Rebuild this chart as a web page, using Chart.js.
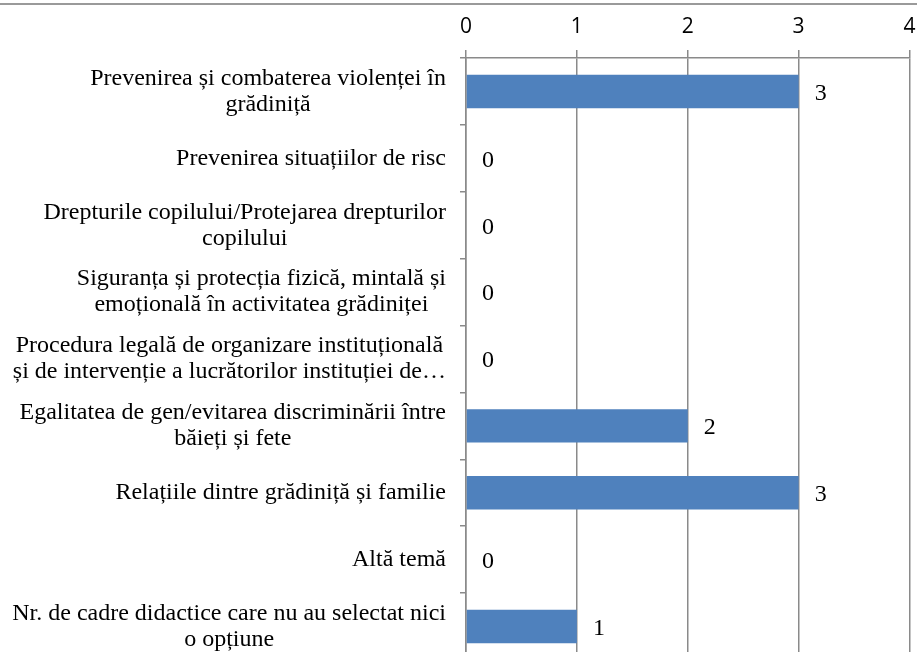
<!DOCTYPE html>
<html><head><meta charset="utf-8">
<script src="https://cdn.jsdelivr.net/npm/chart.js@4"></script>
<style>
html,body{margin:0;padding:0;overflow:hidden;background:#fff;width:917px;height:652px}
#wrap{position:absolute;left:0;top:0;width:917px;height:660px}
#topline{position:absolute;left:0;top:3px;width:917px;height:0;border-top:2px solid #9a9a9a}
</style></head><body>
<div id="wrap"><canvas id="c"></canvas></div>
<div id="topline"></div>
<script>
const categories = [
  ["Prevenirea și combaterea violenței în", "grădiniță"],
  "Prevenirea situațiilor de risc",
  ["Drepturile copilului/Protejarea drepturilor", "copilului"],
  ["Siguranța și protecția fizică, mintală și", "emoțională în activitatea grădiniței"],
  ["Procedura legală de organizare instituțională", "și de intervenție a lucrătorilor instituției de…"],
  ["Egalitatea de gen/evitarea discriminării între", "băieți și fete"],
  "Relațiile dintre grădiniță și familie",
  "Altă temă",
  ["Nr. de cadre didactice care nu au selectat nici", "o opțiune"]
];
const values = [3, 0, 0, 0, 0, 2, 3, 0, 1];
const xTicks = [0, 1, 2, 3, 4];

const GRID = '#8a8a8a';
const SERIF = '24px "Liberation Serif", "Times New Roman", serif';

const valueLabels = {
  id: 'valueLabels',
  afterDatasetsDraw(chart) {
    const ctx = chart.ctx;
    const meta = chart.getDatasetMeta(0);
    ctx.save();
    ctx.font = SERIF;
    ctx.fillStyle = '#000';
    ctx.textAlign = 'left';
    ctx.textBaseline = 'middle';
    meta.data.forEach((bar, i) => {
      ctx.fillText(String(values[i]), bar.x + 16, bar.y + 2);
    });
    ctx.restore();
  }
};

const categoryLabels = {
  id: 'categoryLabels',
  afterDraw(chart) {
    const ctx = chart.ctx;
    const ys = chart.scales.y;
    ctx.save();
    ctx.font = SERIF;
    ctx.fillStyle = '#000';
    ctx.textAlign = 'center';
    ctx.textBaseline = 'middle';
    categories.forEach((lab, i) => {
      const lines = Array.isArray(lab) ? lab : [lab];
      const w = Math.max(...lines.map(l => ctx.measureText(l).width));
      const cx = ys.right - 20 - w / 2;
      const cy = ys.getPixelForTick(i);
      lines.forEach((l, j) => {
        ctx.fillText(l, cx, cy + (j - (lines.length - 1) / 2) * 26);
      });
    });
    ctx.restore();
  }
};

new Chart(document.getElementById('c'), {
  type: 'bar',
  data: {
    labels: categories,
    datasets: [{
      data: values,
      backgroundColor: '#4f81bd',
      barPercentage: 0.5,
      categoryPercentage: 1
    }]
  },
  options: {
    indexAxis: 'y',
    responsive: true,
    maintainAspectRatio: false,
    animation: false,
    layout: { padding: { top: 0, right: 7.5, bottom: 0, left: 0 } },
    plugins: { legend: { display: false }, tooltip: { enabled: false } },
    scales: {
      x: {
        position: 'top',
        min: xTicks[0],
        max: xTicks[xTicks.length - 1],
        ticks: {
          stepSize: 1,
          color: '#000',
          padding: 10,
          font: { family: '"Open Sans", sans-serif', size: 21 },
          callback: v => xTicks.includes(v) ? String(v) : ''
        },
        grid: { color: GRID, lineWidth: 1.5, tickLength: 8, drawTicks: true },
        border: { display: true, color: GRID, width: 1.5 },
        afterFit: s => { s.height = 58; s.paddingLeft = 0; s.paddingRight = 0; }
      },
      y: {
        ticks: { display: false },
        grid: { display: true, drawOnChartArea: false, offset: true, tickLength: 6, color: GRID, lineWidth: 1.5 },
        border: { display: true, color: GRID, width: 1.5 },
        afterFit: s => { s.width = 466; s.paddingTop = 0; s.paddingBottom = 0; }
      }
    }
  },
  plugins: [valueLabels, categoryLabels]
});
</script>
</body></html>
